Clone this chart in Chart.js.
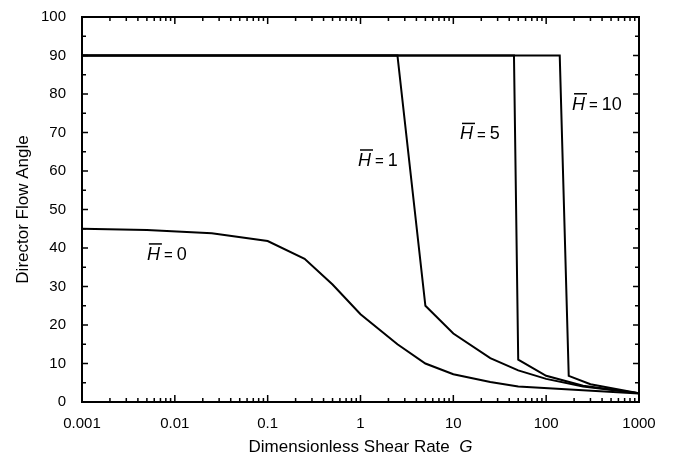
<!DOCTYPE html>
<html>
<head>
<meta charset="utf-8">
<title>Director Flow Angle</title>
<script src="https://cdn.jsdelivr.net/npm/chart.js@4.4.1/dist/chart.umd.min.js"></script>
<style>
  html, body { margin: 0; padding: 0; background: #fff; }
  #wrap { width: 674px; height: 470px; position: relative; }
</style>
</head>
<body>
<div id="wrap"><canvas id="chart"></canvas></div>
<script>
// values
const h0X = [0.001, 0.005, 0.025, 0.1, 0.25, 0.5, 1, 2.5, 5, 10, 25, 50, 1000];
const h0Y = [45, 44.7, 43.8, 41.8, 37.2, 30.5, 22.8, 15, 10, 7.2, 5.2, 4, 2.2];

const h1X = [0.001, 2.5, 5, 10, 25, 50, 100, 250, 1000];
const h1Y = [90, 90, 25, 17.8, 11.4, 8.2, 6, 4, 2.3];

const h5X = [0.001, 45, 50, 100, 250, 1000];
const h5Y = [90, 90, 11, 6.8, 4.2, 2.3];

const h10X = [0.001, 140, 175, 300, 1000];
const h10Y = [90, 90, 6.8, 4.6, 2.3];

const xTicks = [0.001, 0.01, 0.1, 1, 10, 100, 1000];
const yTicks = [0, 10, 20, 30, 40, 50, 60, 70, 80, 90, 100];

// curve labels: [value of Hbar, x, y] in data units
const curveLabels = [["0", 0.005, 38.2], ["1", 0.94, 62.6], ["5", 11.8, 69.5], ["10", 190, 77.2]];

const FONT = '"Liberation Sans", Arial, Helvetica, sans-serif';

const toPoints = (xs, ys) => xs.map((x, i) => ({ x: x, y: ys[i] }));

const lineSet = (xs, ys) => ({
  data: toPoints(xs, ys),
  borderColor: "#000",
  borderWidth: 2,
  pointRadius: 0,
  tension: 0,
  fill: false
});

const frameAndText = {
  id: "frameAndText",
  afterDraw(chart) {
    const ctx = chart.ctx;
    const { left, right, top, bottom } = chart.chartArea;
    const xs = chart.scales.x, ys = chart.scales.y;
    ctx.save();
    ctx.strokeStyle = "#000";
    ctx.lineWidth = 2;
    ctx.strokeRect(left, top, right - left, bottom - top);

    // inward ticks, x (log)
    ctx.lineWidth = 1.5;
    ctx.beginPath();
    for (let d = -3; d <= 3; d++) {
      for (let m = 1; m <= 9; m++) {
        const v = m * Math.pow(10, d);
        if (v > 1000.0001) break;
        const px = xs.getPixelForValue(v);
        const len = m === 1 ? 7 : 4;
        ctx.moveTo(px, bottom); ctx.lineTo(px, bottom - len);
        ctx.moveTo(px, top); ctx.lineTo(px, top + len);
      }
    }
    // inward ticks, y
    for (let v = 0; v <= 100; v += 5) {
      const py = ys.getPixelForValue(v);
      const len = v % 10 === 0 ? 6 : 4;
      ctx.moveTo(left, py); ctx.lineTo(left + len, py);
      ctx.moveTo(right, py); ctx.lineTo(right - len, py);
    }
    ctx.stroke();

    // curve labels, H with overbar
    ctx.fillStyle = "#000";
    ctx.textBaseline = "middle";
    ctx.textAlign = "left";
    curveLabels.forEach(([num, lx, ly]) => {
      let px = xs.getPixelForValue(lx);
      const py = ys.getPixelForValue(ly);
      ctx.font = "italic 18px " + FONT;
      const hw = ctx.measureText("H").width;
      ctx.fillText("H", px, py);
      ctx.lineWidth = 1.5;
      ctx.beginPath();
      ctx.moveTo(px + 2, py - 11);
      ctx.lineTo(px + hw + 2, py - 11);
      ctx.stroke();
      px += hw + 4;
      ctx.font = "15px " + FONT;
      ctx.fillText("=", px, py + 1);
      px += ctx.measureText("=").width + 4;
      ctx.font = "18px " + FONT;
      ctx.fillText(num, px, py);
    });

    // axis titles
    const tf = "17px " + FONT, tfi = "italic 17px " + FONT;
    ctx.font = tf;
    const t1 = "Dimensionless Shear Rate  ";
    const w1 = ctx.measureText(t1).width;
    ctx.font = tfi;
    const w2 = ctx.measureText("G").width;
    const cx = (left + right) / 2;
    const tx = cx - (w1 + w2) / 2;
    ctx.font = tf;
    ctx.fillText(t1, tx, 447);
    ctx.font = tfi;
    ctx.fillText("G", tx + w1, 447);

    ctx.translate(23, (top + bottom) / 2);
    ctx.rotate(-Math.PI / 2);
    ctx.textAlign = "center";
    ctx.font = tf;
    ctx.fillText("Director Flow Angle", 0, 0);
    ctx.restore();
  }
};

new Chart(document.getElementById("chart"), {
  type: "line",
  data: {
    datasets: [lineSet(h0X, h0Y), lineSet(h1X, h1Y), lineSet(h5X, h5Y), lineSet(h10X, h10Y)]
  },
  options: {
    responsive: true,
    maintainAspectRatio: false,
    animation: false,
    layout: { padding: { left: 0, right: 35, top: 12, bottom: 0 } },
    plugins: {
      legend: { display: false },
      tooltip: { enabled: false }
    },
    scales: {
      x: {
        type: "logarithmic",
        min: 0.001,
        max: 1000,
        grid: { display: false },
        border: { display: false },
        afterBuildTicks: s => { s.ticks = xTicks.map(v => ({ value: v })); },
        afterFit: s => { s.height = 68; },
        ticks: {
          color: "#000",
          padding: 5,
          autoSkip: false,
          maxRotation: 0,
          font: { family: FONT, size: 15 },
          callback: v => String(v)
        }
      },
      y: {
        min: 0,
        max: 100,
        grid: { display: false },
        border: { display: false },
        afterBuildTicks: s => { s.ticks = yTicks.map(v => ({ value: v })); },
        afterFit: s => { s.width = 82; },
        ticks: {
          color: "#000",
          padding: 8,
          font: { family: FONT, size: 15 }
        }
      }
    }
  },
  plugins: [frameAndText]
});
</script>
</body>
</html>
